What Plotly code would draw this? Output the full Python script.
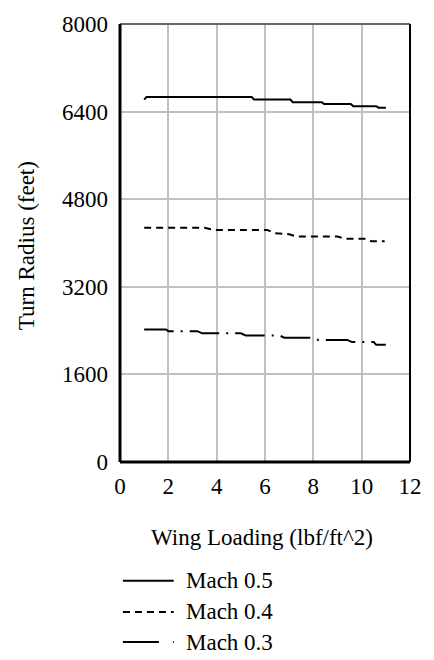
import plotly.graph_objects as go

# Data
x_m05 = [1.0, 1.1, 5.45, 5.55, 7.05, 7.15, 8.35, 8.45, 9.55, 9.65, 10.6, 10.7, 11.0]
y_m05 = [6620, 6667, 6667, 6620, 6620, 6572, 6572, 6537, 6537, 6500, 6500, 6471, 6471]

x_m04 = [1.0, 3.5, 3.9, 6.1, 6.4, 7.0, 7.3, 9.0, 9.3, 10.2, 10.4, 10.95]
y_m04 = [4279, 4279, 4238, 4238, 4180, 4160, 4119, 4119, 4078, 4078, 4030, 4030]

x_m03 = [1.0, 1.9, 2.0, 3.2, 3.4, 5.0, 5.2, 6.6, 6.8, 8.0, 8.2, 9.4, 9.6, 10.5, 10.6, 11.0]
y_m03 = [2420, 2420, 2390, 2390, 2350, 2350, 2310, 2310, 2270, 2270, 2230, 2230, 2190, 2190, 2140, 2140]

series_names = ["Mach 0.5", "Mach 0.4", "Mach 0.3"]
series_dash = ["solid", "7px,5px", "30px,7px,2px,7px"]
legend_dash = ["solid", "7px,5px", "36px,14px,2px,20px"]

x_ticks = [0, 2, 4, 6, 8, 10, 12]
y_ticks = [0, 1600, 3200, 4800, 6400, 8000]

FONT = "Liberation Serif"
FS = 23

fig = go.Figure()
for xs, ys, name, dash in zip([x_m05, x_m04, x_m03], [y_m05, y_m04, y_m03], series_names, series_dash):
    fig.add_trace(go.Scatter(x=xs, y=ys, mode="lines", name=name,
                             line=dict(color="black", width=2, dash=dash),
                             showlegend=False))

fig.update_layout(
    width=434, height=660,
    margin=dict(l=120, r=17, t=12, b=198),
    paper_bgcolor="white", plot_bgcolor="white",
    font=dict(family=FONT, size=FS, color="black"),
    showlegend=False,
)
fig.update_xaxes(range=[0, 12], tickvals=x_ticks, ticktext=[str(v) for v in x_ticks],
                 showgrid=True, gridcolor="#c0c0c0", gridwidth=1.5,
                 showline=False, zeroline=False, ticks="", ticklabelstandoff=8,
                 tickfont=dict(family=FONT, size=FS))
fig.update_yaxes(range=[0, 8000], tickvals=y_ticks, ticktext=[str(v) for v in y_ticks],
                 showgrid=True, gridcolor="#c0c0c0", gridwidth=1.5,
                 showline=False, zeroline=False, ticks="", ticklabelstandoff=11,
                 tickfont=dict(family=FONT, size=FS))

# frame
fig.add_shape(type="line", xref="paper", yref="paper", x0=0, x1=1, y0=1, y1=1,
              line=dict(color="#666666", width=2))
fig.add_shape(type="line", xref="paper", yref="paper", x0=1, x1=1, y0=0, y1=1,
              line=dict(color="black", width=2))
fig.add_shape(type="line", xref="paper", yref="paper", x0=0, x1=0, y0=0, y1=1,
              line=dict(color="black", width=3))
fig.add_shape(type="line", xref="paper", yref="paper", x0=0, x1=1, y0=0, y1=0,
              line=dict(color="black", width=3))

plot_h = 660 - 12 - 198
def py(pix):
    return (660 - 198 - pix) / plot_h
plot_w = 434 - 120 - 17
def px(pix):
    return (pix - 120) / plot_w

fig.add_annotation(text="Wing Loading (lbf/ft^2)", xref="paper", yref="paper",
                   x=px(265), y=py(540), showarrow=False, xanchor="center", yanchor="middle",
                   font=dict(family=FONT, size=FS))
fig.add_annotation(text="Turn Radius (feet)", xref="paper", yref="paper",
                   x=px(25), y=py(240), showarrow=False, xanchor="center", yanchor="middle",
                   textangle=-90, font=dict(family=FONT, size=FS))

legend_y = [584, 616, 647]
for name, dash, yy in zip(series_names, legend_dash, legend_y):
    fig.add_shape(type="line", xref="paper", yref="paper", x0=px(123), x1=px(175),
                  y0=py(yy), y1=py(yy), line=dict(color="black", width=2, dash=dash))
    fig.add_annotation(text=name, xref="paper", yref="paper", x=px(186), y=py(yy),
                       showarrow=False, xanchor="left", yanchor="middle",
                       font=dict(family=FONT, size=FS))

fig.write_html("out.html")
